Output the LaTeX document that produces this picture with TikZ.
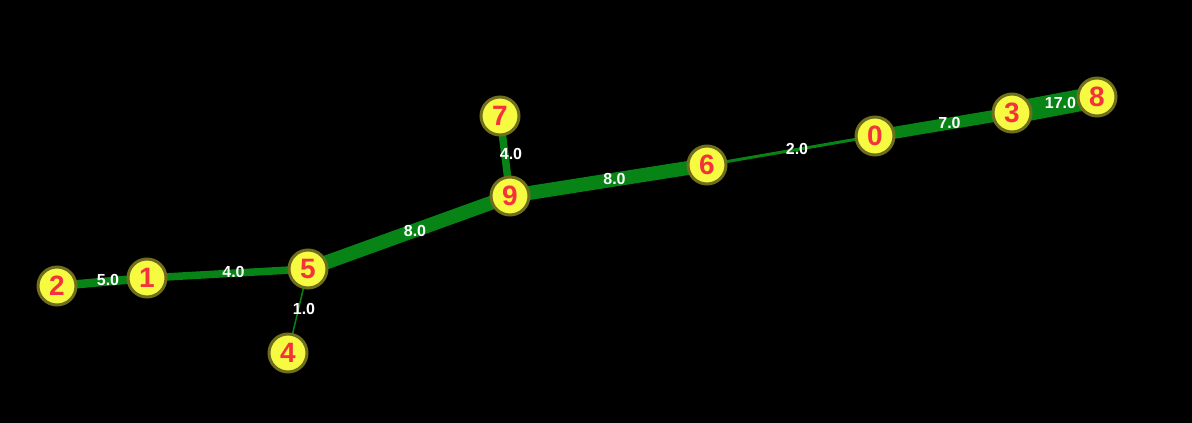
\documentclass[tikz,border=0pt]{standalone}
\usepackage{fontspec}
\setmainfont{Liberation Sans}
\usetikzlibrary{backgrounds}
\definecolor{vfill}{RGB}{246,250,64}
\definecolor{vline}{RGB}{110,110,30}
\definecolor{vtext}{RGB}{245,50,60}
\definecolor{egreen}{RGB}{8,132,22}
\begin{document}
\begin{tikzpicture}[x=1pt,y=-1pt,
  vert/.style={circle,fill=vfill,draw=vline,line width=3pt,minimum size=38pt,inner sep=0pt,
    text=vtext,font=\fontsize{28}{28}\selectfont\bfseries},
  wedge/.style={draw=egreen,line cap=butt},
  wlab/.style={midway,text=white,font=\fontsize{16}{16}\selectfont\bfseries,xshift=6pt,yshift=2pt}]
\useasboundingbox (0,0) rectangle (1192,423);

\node[vert] (n2) at (57,286) {2};
\node[vert] (n1) at (147,278) {1};
\node[vert] (n5) at (308,269) {5};
\node[vert] (n4) at (288,353) {4};
\node[vert] (n9) at (510,196) {9};
\node[vert] (n7) at (500,116) {7};
\node[vert] (n6) at (707,165) {6};
\node[vert] (n0) at (875,136) {0};
\node[vert] (n3) at (1012,113) {3};
\node[vert] (n8) at (1097,97) {8};

\begin{scope}[on background layer]
\fill[black] (0,0) rectangle (1192,423);
\draw[wedge,line width=8.5pt] (n2.center) -- (n1.center) node[wlab] {5.0};
\draw[wedge,line width=7.5pt] (n1.center) -- (n5.center) node[wlab] {4.0};
\draw[wedge,line width=1.5pt] (n5.center) -- (n4.center) node[wlab] {1.0};
\draw[wedge,line width=14pt] (n5.center) -- (n9.center) node[wlab] {8.0};
\draw[wedge,line width=7.5pt] (n7.center) -- (n9.center) node[wlab] {4.0};
\draw[wedge,line width=14pt] (n9.center) -- (n6.center) node[wlab] {8.0};
\draw[wedge,line width=3pt] (n6.center) -- (n0.center) node[wlab] {2.0};
\draw[wedge,line width=12pt] (n0.center) -- (n3.center) node[wlab] {7.0};
\draw[wedge,line width=22pt] (n3.center) -- (n8.center) node[wlab] {17.0};
\end{scope}
\end{tikzpicture}
\end{document}
